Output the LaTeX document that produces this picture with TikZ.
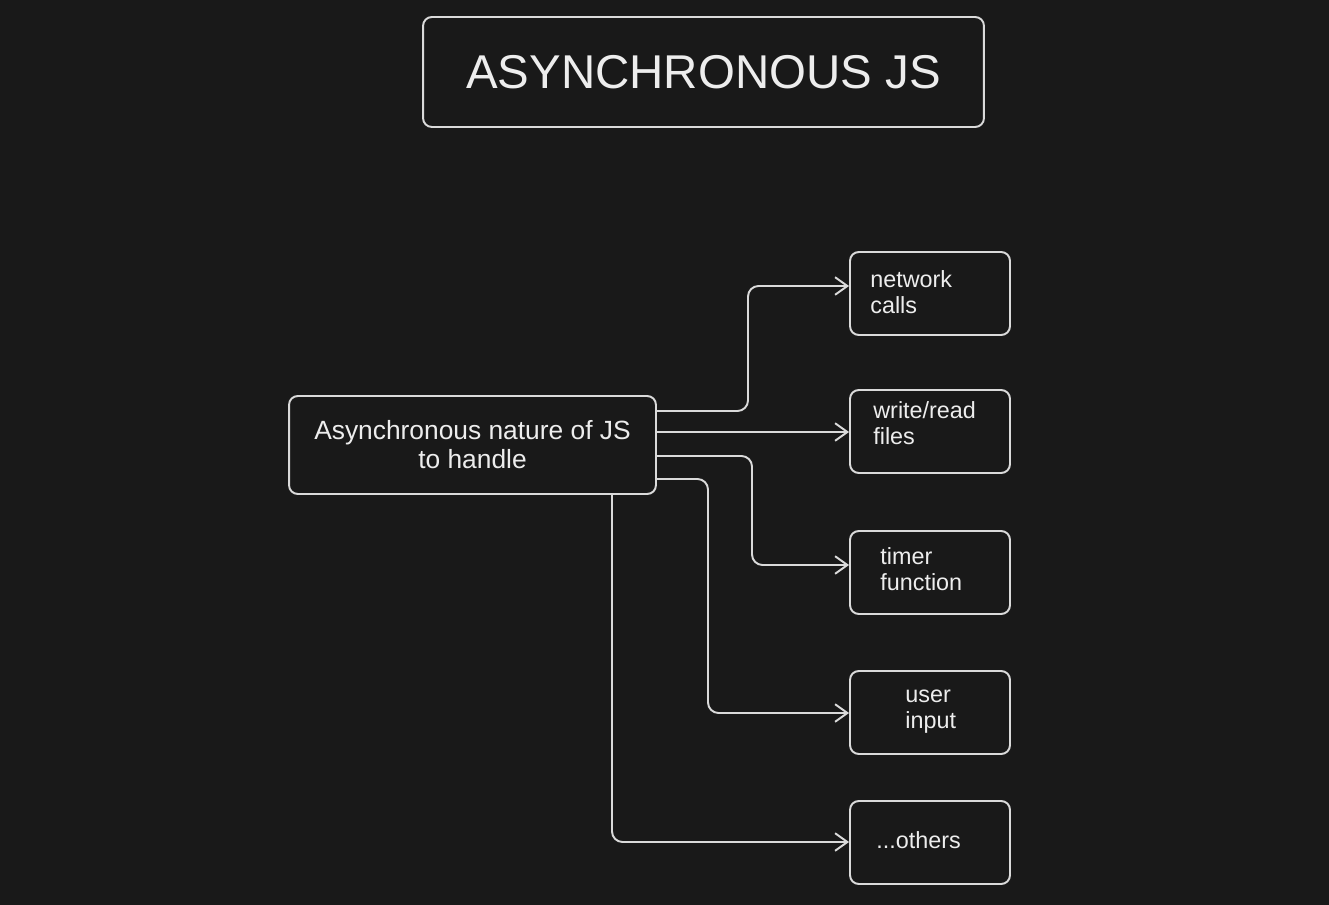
\documentclass[tikz,border=0pt]{standalone}
\usepackage{fontspec}
\setmainfont{Liberation Sans}
\usetikzlibrary{arrows.meta}
\definecolor{bgdark}{HTML}{191919}
\definecolor{inkgray}{HTML}{DADADA}
\definecolor{textwhite}{HTML}{EDEDED}

\begin{document}
\begin{tikzpicture}[
  x=0.02cm, y=-0.02cm,
  box/.style={rectangle, draw=inkgray, line width=1.1pt, rounded corners=5pt,
             fill=bgdark, inner sep=0pt, text=textwhite},
  titlebox/.style={box, minimum width=11.22cm, minimum height=2.2cm,
             font=\fontsize{27}{32}\selectfont},
  mainbox/.style={box, minimum width=7.34cm, minimum height=1.96cm, align=center,
             font=\fontsize{15}{16.5}\selectfont},
  leafbox/.style={box, minimum width=3.2cm, minimum height=1.66cm},
  leaftext/.style={anchor=west, align=left, inner sep=0pt, text=textwhite,
             font=\fontsize{13.3}{14.8}\selectfont},
  arrow/.style={-{Straight Barb[length=7pt, width=10pt]}, line width=1.1pt,
             draw=inkgray, rounded corners=6pt}
]

% dark canvas
\fill[bgdark] (0,0) rectangle (1329,905);

\node[titlebox] (title) at (703.5,72) {ASYNCHRONOUS JS};

\node[mainbox] (async) at (472.5,445) {%
  Asynchronous nature of JS\\
  to handle
};

\node[leafbox] (network) at (930,293.5) {};
\node[leafbox] (files)   at (930,431.5) {};
\node[leafbox] (timer)   at (930,572.5) {};
\node[leafbox] (input)   at (930,712.5) {};
\node[leafbox] (others)  at (930,842.5) {};

\node[leaftext] (networktxt) at (870,292) {network\\calls};
\node[leaftext] (filestxt)   at (873,423) {write/read\\files};
\node[leaftext] (timertxt)   at (880,569) {timer\\function};
\node[leaftext] (inputtxt)   at (905,712) {user\\input};
\node[leaftext] (otherstxt)  at (876,840) {...others};

\draw[arrow] (async.east |- 0,411) -| (748,286) -- (network.west |- 0,286);
\draw[arrow] (async.east |- 0,432) -- (files.west |- 0,432);
\draw[arrow] (async.east |- 0,456) -| (752,565) -- (timer.west |- 0,565);
\draw[arrow] (async.east |- 0,479) -| (708,713) -- (input.west |- 0,713);
\draw[arrow] (async.south -| 612,0) |- (others.west |- 0,842);

\end{tikzpicture}
\end{document}
